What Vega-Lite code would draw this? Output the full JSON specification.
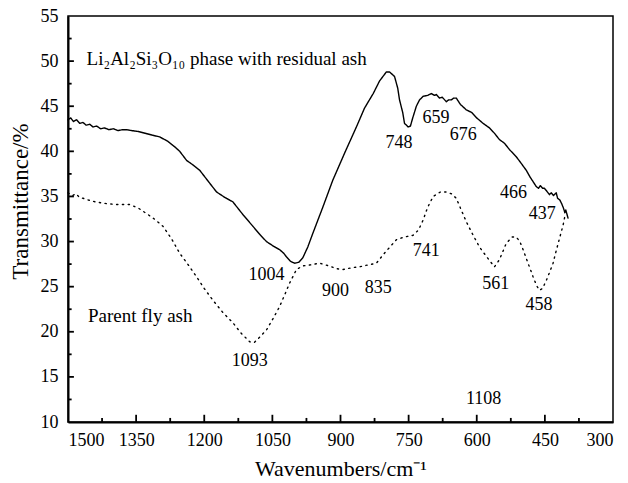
{
  "$schema": "https://vega.github.io/schema/vega-lite/v6.json",
  "width": 545,
  "height": 406,
  "autosize": "none",
  "padding": {"left": 68, "top": 16, "right": 15, "bottom": 61},
  "background": "white",
  "config": {
    "view": {"stroke": "black", "strokeWidth": 1.5},
    "font": "Liberation Serif"
  },
  "datasets": {
    "spectra": [
      {"wn": 1500, "t": 43.5, "s": "Li2Al2Si3O10 phase with residual ash"},
      {"wn": 1494, "t": 43.7, "s": "Li2Al2Si3O10 phase with residual ash"},
      {"wn": 1488, "t": 43.3, "s": "Li2Al2Si3O10 phase with residual ash"},
      {"wn": 1481, "t": 43.5, "s": "Li2Al2Si3O10 phase with residual ash"},
      {"wn": 1474, "t": 43.1, "s": "Li2Al2Si3O10 phase with residual ash"},
      {"wn": 1467, "t": 43.2, "s": "Li2Al2Si3O10 phase with residual ash"},
      {"wn": 1460, "t": 42.9, "s": "Li2Al2Si3O10 phase with residual ash"},
      {"wn": 1452, "t": 43.0, "s": "Li2Al2Si3O10 phase with residual ash"},
      {"wn": 1445, "t": 42.7, "s": "Li2Al2Si3O10 phase with residual ash"},
      {"wn": 1437, "t": 42.8, "s": "Li2Al2Si3O10 phase with residual ash"},
      {"wn": 1428, "t": 42.5, "s": "Li2Al2Si3O10 phase with residual ash"},
      {"wn": 1420, "t": 42.6, "s": "Li2Al2Si3O10 phase with residual ash"},
      {"wn": 1410, "t": 42.4, "s": "Li2Al2Si3O10 phase with residual ash"},
      {"wn": 1400, "t": 42.5, "s": "Li2Al2Si3O10 phase with residual ash"},
      {"wn": 1390, "t": 42.3, "s": "Li2Al2Si3O10 phase with residual ash"},
      {"wn": 1380, "t": 42.4, "s": "Li2Al2Si3O10 phase with residual ash"},
      {"wn": 1371, "t": 42.4, "s": "Li2Al2Si3O10 phase with residual ash"},
      {"wn": 1360, "t": 42.3, "s": "Li2Al2Si3O10 phase with residual ash"},
      {"wn": 1345, "t": 42.2, "s": "Li2Al2Si3O10 phase with residual ash"},
      {"wn": 1330, "t": 42.0, "s": "Li2Al2Si3O10 phase with residual ash"},
      {"wn": 1315, "t": 41.8, "s": "Li2Al2Si3O10 phase with residual ash"},
      {"wn": 1298, "t": 41.6, "s": "Li2Al2Si3O10 phase with residual ash"},
      {"wn": 1280, "t": 41.1, "s": "Li2Al2Si3O10 phase with residual ash"},
      {"wn": 1265, "t": 40.5, "s": "Li2Al2Si3O10 phase with residual ash"},
      {"wn": 1254, "t": 40.0, "s": "Li2Al2Si3O10 phase with residual ash"},
      {"wn": 1239, "t": 39.0, "s": "Li2Al2Si3O10 phase with residual ash"},
      {"wn": 1225, "t": 38.5, "s": "Li2Al2Si3O10 phase with residual ash"},
      {"wn": 1210, "t": 37.9, "s": "Li2Al2Si3O10 phase with residual ash"},
      {"wn": 1190, "t": 36.6, "s": "Li2Al2Si3O10 phase with residual ash"},
      {"wn": 1173, "t": 35.5, "s": "Li2Al2Si3O10 phase with residual ash"},
      {"wn": 1155, "t": 34.9, "s": "Li2Al2Si3O10 phase with residual ash"},
      {"wn": 1137, "t": 34.4, "s": "Li2Al2Si3O10 phase with residual ash"},
      {"wn": 1115, "t": 33.0, "s": "Li2Al2Si3O10 phase with residual ash"},
      {"wn": 1093, "t": 31.7, "s": "Li2Al2Si3O10 phase with residual ash"},
      {"wn": 1078, "t": 30.8, "s": "Li2Al2Si3O10 phase with residual ash"},
      {"wn": 1063, "t": 30.0, "s": "Li2Al2Si3O10 phase with residual ash"},
      {"wn": 1048, "t": 29.5, "s": "Li2Al2Si3O10 phase with residual ash"},
      {"wn": 1034, "t": 29.1, "s": "Li2Al2Si3O10 phase with residual ash"},
      {"wn": 1025, "t": 28.7, "s": "Li2Al2Si3O10 phase with residual ash"},
      {"wn": 1019, "t": 28.3, "s": "Li2Al2Si3O10 phase with residual ash"},
      {"wn": 1010, "t": 27.8, "s": "Li2Al2Si3O10 phase with residual ash"},
      {"wn": 1001, "t": 27.6, "s": "Li2Al2Si3O10 phase with residual ash"},
      {"wn": 992, "t": 27.7, "s": "Li2Al2Si3O10 phase with residual ash"},
      {"wn": 983, "t": 28.2, "s": "Li2Al2Si3O10 phase with residual ash"},
      {"wn": 972, "t": 29.4, "s": "Li2Al2Si3O10 phase with residual ash"},
      {"wn": 961, "t": 30.9, "s": "Li2Al2Si3O10 phase with residual ash"},
      {"wn": 939, "t": 33.8, "s": "Li2Al2Si3O10 phase with residual ash"},
      {"wn": 917, "t": 36.8, "s": "Li2Al2Si3O10 phase with residual ash"},
      {"wn": 891, "t": 39.8, "s": "Li2Al2Si3O10 phase with residual ash"},
      {"wn": 865, "t": 42.7, "s": "Li2Al2Si3O10 phase with residual ash"},
      {"wn": 847, "t": 44.8, "s": "Li2Al2Si3O10 phase with residual ash"},
      {"wn": 828, "t": 46.4, "s": "Li2Al2Si3O10 phase with residual ash"},
      {"wn": 814, "t": 47.8, "s": "Li2Al2Si3O10 phase with residual ash"},
      {"wn": 799, "t": 48.8, "s": "Li2Al2Si3O10 phase with residual ash"},
      {"wn": 792, "t": 48.8, "s": "Li2Al2Si3O10 phase with residual ash"},
      {"wn": 781, "t": 48.3, "s": "Li2Al2Si3O10 phase with residual ash"},
      {"wn": 774, "t": 47.0, "s": "Li2Al2Si3O10 phase with residual ash"},
      {"wn": 770, "t": 45.7, "s": "Li2Al2Si3O10 phase with residual ash"},
      {"wn": 763, "t": 44.3, "s": "Li2Al2Si3O10 phase with residual ash"},
      {"wn": 759, "t": 43.1, "s": "Li2Al2Si3O10 phase with residual ash"},
      {"wn": 751, "t": 42.7, "s": "Li2Al2Si3O10 phase with residual ash"},
      {"wn": 746, "t": 42.8, "s": "Li2Al2Si3O10 phase with residual ash"},
      {"wn": 741, "t": 43.7, "s": "Li2Al2Si3O10 phase with residual ash"},
      {"wn": 733, "t": 45.0, "s": "Li2Al2Si3O10 phase with residual ash"},
      {"wn": 726, "t": 45.7, "s": "Li2Al2Si3O10 phase with residual ash"},
      {"wn": 718, "t": 46.1, "s": "Li2Al2Si3O10 phase with residual ash"},
      {"wn": 708, "t": 46.2, "s": "Li2Al2Si3O10 phase with residual ash"},
      {"wn": 700, "t": 46.4, "s": "Li2Al2Si3O10 phase with residual ash"},
      {"wn": 693, "t": 46.2, "s": "Li2Al2Si3O10 phase with residual ash"},
      {"wn": 689, "t": 46.3, "s": "Li2Al2Si3O10 phase with residual ash"},
      {"wn": 682, "t": 45.9, "s": "Li2Al2Si3O10 phase with residual ash"},
      {"wn": 676, "t": 46.0, "s": "Li2Al2Si3O10 phase with residual ash"},
      {"wn": 667, "t": 45.5, "s": "Li2Al2Si3O10 phase with residual ash"},
      {"wn": 662, "t": 45.7, "s": "Li2Al2Si3O10 phase with residual ash"},
      {"wn": 656, "t": 45.7, "s": "Li2Al2Si3O10 phase with residual ash"},
      {"wn": 651, "t": 45.9, "s": "Li2Al2Si3O10 phase with residual ash"},
      {"wn": 645, "t": 45.9, "s": "Li2Al2Si3O10 phase with residual ash"},
      {"wn": 636, "t": 45.2, "s": "Li2Al2Si3O10 phase with residual ash"},
      {"wn": 623, "t": 44.6, "s": "Li2Al2Si3O10 phase with residual ash"},
      {"wn": 611, "t": 44.3, "s": "Li2Al2Si3O10 phase with residual ash"},
      {"wn": 600, "t": 43.7, "s": "Li2Al2Si3O10 phase with residual ash"},
      {"wn": 586, "t": 43.1, "s": "Li2Al2Si3O10 phase with residual ash"},
      {"wn": 572, "t": 42.6, "s": "Li2Al2Si3O10 phase with residual ash"},
      {"wn": 561, "t": 42.0, "s": "Li2Al2Si3O10 phase with residual ash"},
      {"wn": 550, "t": 41.3, "s": "Li2Al2Si3O10 phase with residual ash"},
      {"wn": 539, "t": 40.9, "s": "Li2Al2Si3O10 phase with residual ash"},
      {"wn": 528, "t": 40.2, "s": "Li2Al2Si3O10 phase with residual ash"},
      {"wn": 513, "t": 39.4, "s": "Li2Al2Si3O10 phase with residual ash"},
      {"wn": 504, "t": 38.8, "s": "Li2Al2Si3O10 phase with residual ash"},
      {"wn": 491, "t": 37.9, "s": "Li2Al2Si3O10 phase with residual ash"},
      {"wn": 482, "t": 37.1, "s": "Li2Al2Si3O10 phase with residual ash"},
      {"wn": 469, "t": 36.1, "s": "Li2Al2Si3O10 phase with residual ash"},
      {"wn": 464, "t": 35.9, "s": "Li2Al2Si3O10 phase with residual ash"},
      {"wn": 460, "t": 36.2, "s": "Li2Al2Si3O10 phase with residual ash"},
      {"wn": 455, "t": 35.9, "s": "Li2Al2Si3O10 phase with residual ash"},
      {"wn": 451, "t": 35.9, "s": "Li2Al2Si3O10 phase with residual ash"},
      {"wn": 446, "t": 35.6, "s": "Li2Al2Si3O10 phase with residual ash"},
      {"wn": 440, "t": 35.2, "s": "Li2Al2Si3O10 phase with residual ash"},
      {"wn": 436, "t": 35.4, "s": "Li2Al2Si3O10 phase with residual ash"},
      {"wn": 431, "t": 35.1, "s": "Li2Al2Si3O10 phase with residual ash"},
      {"wn": 425, "t": 35.4, "s": "Li2Al2Si3O10 phase with residual ash"},
      {"wn": 422, "t": 34.8, "s": "Li2Al2Si3O10 phase with residual ash"},
      {"wn": 417, "t": 34.6, "s": "Li2Al2Si3O10 phase with residual ash"},
      {"wn": 413, "t": 34.2, "s": "Li2Al2Si3O10 phase with residual ash"},
      {"wn": 409, "t": 33.7, "s": "Li2Al2Si3O10 phase with residual ash"},
      {"wn": 406, "t": 33.2, "s": "Li2Al2Si3O10 phase with residual ash"},
      {"wn": 404, "t": 33.5, "s": "Li2Al2Si3O10 phase with residual ash"},
      {"wn": 399, "t": 32.6, "s": "Li2Al2Si3O10 phase with residual ash"},
      {"wn": 1500, "t": 35.4, "s": "Parent fly ash"},
      {"wn": 1490, "t": 35.1, "s": "Parent fly ash"},
      {"wn": 1482, "t": 35.3, "s": "Parent fly ash"},
      {"wn": 1475, "t": 34.9, "s": "Parent fly ash"},
      {"wn": 1467, "t": 34.8, "s": "Parent fly ash"},
      {"wn": 1455, "t": 34.6, "s": "Parent fly ash"},
      {"wn": 1440, "t": 34.4, "s": "Parent fly ash"},
      {"wn": 1415, "t": 34.2, "s": "Parent fly ash"},
      {"wn": 1390, "t": 34.1, "s": "Parent fly ash"},
      {"wn": 1364, "t": 34.1, "s": "Parent fly ash"},
      {"wn": 1345, "t": 33.7, "s": "Parent fly ash"},
      {"wn": 1327, "t": 33.1, "s": "Parent fly ash"},
      {"wn": 1310, "t": 32.5, "s": "Parent fly ash"},
      {"wn": 1291, "t": 31.7, "s": "Parent fly ash"},
      {"wn": 1272, "t": 30.3, "s": "Parent fly ash"},
      {"wn": 1254, "t": 28.7, "s": "Parent fly ash"},
      {"wn": 1235, "t": 27.4, "s": "Parent fly ash"},
      {"wn": 1217, "t": 26.1, "s": "Parent fly ash"},
      {"wn": 1200, "t": 24.8, "s": "Parent fly ash"},
      {"wn": 1181, "t": 23.5, "s": "Parent fly ash"},
      {"wn": 1160, "t": 22.2, "s": "Parent fly ash"},
      {"wn": 1137, "t": 21.0, "s": "Parent fly ash"},
      {"wn": 1118, "t": 19.8, "s": "Parent fly ash"},
      {"wn": 1100, "t": 18.9, "s": "Parent fly ash"},
      {"wn": 1090, "t": 18.8, "s": "Parent fly ash"},
      {"wn": 1080, "t": 19.3, "s": "Parent fly ash"},
      {"wn": 1063, "t": 20.2, "s": "Parent fly ash"},
      {"wn": 1048, "t": 21.5, "s": "Parent fly ash"},
      {"wn": 1034, "t": 22.8, "s": "Parent fly ash"},
      {"wn": 1022, "t": 24.2, "s": "Parent fly ash"},
      {"wn": 1012, "t": 25.4, "s": "Parent fly ash"},
      {"wn": 997, "t": 26.9, "s": "Parent fly ash"},
      {"wn": 983, "t": 27.3, "s": "Parent fly ash"},
      {"wn": 968, "t": 27.4, "s": "Parent fly ash"},
      {"wn": 946, "t": 27.6, "s": "Parent fly ash"},
      {"wn": 925, "t": 27.3, "s": "Parent fly ash"},
      {"wn": 910, "t": 27.0, "s": "Parent fly ash"},
      {"wn": 895, "t": 26.9, "s": "Parent fly ash"},
      {"wn": 875, "t": 27.1, "s": "Parent fly ash"},
      {"wn": 858, "t": 27.2, "s": "Parent fly ash"},
      {"wn": 840, "t": 27.4, "s": "Parent fly ash"},
      {"wn": 821, "t": 27.6, "s": "Parent fly ash"},
      {"wn": 800, "t": 28.9, "s": "Parent fly ash"},
      {"wn": 777, "t": 30.2, "s": "Parent fly ash"},
      {"wn": 760, "t": 30.5, "s": "Parent fly ash"},
      {"wn": 740, "t": 30.7, "s": "Parent fly ash"},
      {"wn": 728, "t": 31.3, "s": "Parent fly ash"},
      {"wn": 718, "t": 32.4, "s": "Parent fly ash"},
      {"wn": 708, "t": 33.8, "s": "Parent fly ash"},
      {"wn": 696, "t": 35.0, "s": "Parent fly ash"},
      {"wn": 680, "t": 35.5, "s": "Parent fly ash"},
      {"wn": 667, "t": 35.5, "s": "Parent fly ash"},
      {"wn": 656, "t": 35.3, "s": "Parent fly ash"},
      {"wn": 645, "t": 34.8, "s": "Parent fly ash"},
      {"wn": 635, "t": 33.6, "s": "Parent fly ash"},
      {"wn": 623, "t": 32.2, "s": "Parent fly ash"},
      {"wn": 610, "t": 30.9, "s": "Parent fly ash"},
      {"wn": 594, "t": 29.4, "s": "Parent fly ash"},
      {"wn": 578, "t": 28.3, "s": "Parent fly ash"},
      {"wn": 561, "t": 27.2, "s": "Parent fly ash"},
      {"wn": 550, "t": 28.0, "s": "Parent fly ash"},
      {"wn": 535, "t": 29.8, "s": "Parent fly ash"},
      {"wn": 522, "t": 30.5, "s": "Parent fly ash"},
      {"wn": 513, "t": 30.5, "s": "Parent fly ash"},
      {"wn": 505, "t": 30.0, "s": "Parent fly ash"},
      {"wn": 498, "t": 29.1, "s": "Parent fly ash"},
      {"wn": 487, "t": 27.6, "s": "Parent fly ash"},
      {"wn": 476, "t": 26.1, "s": "Parent fly ash"},
      {"wn": 468, "t": 25.1, "s": "Parent fly ash"},
      {"wn": 462, "t": 24.6, "s": "Parent fly ash"},
      {"wn": 455, "t": 24.8, "s": "Parent fly ash"},
      {"wn": 445, "t": 25.9, "s": "Parent fly ash"},
      {"wn": 432, "t": 27.6, "s": "Parent fly ash"},
      {"wn": 425, "t": 29.0, "s": "Parent fly ash"},
      {"wn": 417, "t": 30.5, "s": "Parent fly ash"},
      {"wn": 410, "t": 31.8, "s": "Parent fly ash"},
      {"wn": 406, "t": 32.8, "s": "Parent fly ash"}
    ],
    "labels": [
      {"wn": 1063, "t": 26.3, "label": "1004"},
      {"wn": 1100, "t": 16.8, "label": "1093"},
      {"wn": 911, "t": 24.5, "label": "900"},
      {"wn": 817, "t": 24.9, "label": "835"},
      {"wn": 711, "t": 28.9, "label": "741"},
      {"wn": 558, "t": 25.3, "label": "561"},
      {"wn": 463, "t": 23.0, "label": "458"},
      {"wn": 519, "t": 35.4, "label": "466"},
      {"wn": 456, "t": 33.1, "label": "437"},
      {"wn": 771, "t": 40.9, "label": "748"},
      {"wn": 690, "t": 43.7, "label": "659"},
      {"wn": 630, "t": 41.8, "label": "676"},
      {"wn": 585, "t": 12.6, "label": "1108"}
    ],
    "names": [
      {"wn": 1459, "t": 50.2, "label": "Li₂Al₂Si₃O₁₀ phase with residual ash"},
      {"wn": 1456, "t": 21.7, "label": "Parent fly ash"}
    ],
    "xticks": [
      {"wn": 1425, "kind": "minor"}, {"wn": 1350, "kind": "major"}, {"wn": 1275, "kind": "minor"},
      {"wn": 1200, "kind": "major"}, {"wn": 1125, "kind": "minor"}, {"wn": 1050, "kind": "major"},
      {"wn": 975, "kind": "minor"}, {"wn": 900, "kind": "major"}, {"wn": 825, "kind": "minor"},
      {"wn": 750, "kind": "major"}, {"wn": 675, "kind": "minor"}, {"wn": 600, "kind": "major"},
      {"wn": 525, "kind": "minor"}, {"wn": 450, "kind": "major"}, {"wn": 375, "kind": "minor"}
    ],
    "yticks": [
      {"t": 12.5, "kind": "minor"}, {"t": 15, "kind": "major"}, {"t": 17.5, "kind": "minor"},
      {"t": 20, "kind": "major"}, {"t": 22.5, "kind": "minor"}, {"t": 25, "kind": "major"},
      {"t": 27.5, "kind": "minor"}, {"t": 30, "kind": "major"}, {"t": 32.5, "kind": "minor"},
      {"t": 35, "kind": "major"}, {"t": 37.5, "kind": "minor"}, {"t": 40, "kind": "major"},
      {"t": 42.5, "kind": "minor"}, {"t": 45, "kind": "major"}, {"t": 47.5, "kind": "minor"},
      {"t": 50, "kind": "major"}, {"t": 52.5, "kind": "minor"}
    ]
  },
  "layer": [
    {
      "data": {"name": "spectra"},
      "mark": {"type": "line", "strokeCap": "round", "strokeJoin": "round"},
      "encoding": {
        "x": {
          "field": "wn", "type": "quantitative",
          "scale": {"domain": [300, 1500], "reverse": true, "nice": false, "zero": false},
          "axis": {
            "title": "Wavenumbers/cm⁻¹",
            "titleFont": "Liberation Serif", "titleFontSize": 22, "titleFontWeight": "normal", "titleColor": "black",
            "titlePadding": 9,
            "values": [1500, 1350, 1200, 1050, 900, 750, 600, 450, 300],
            "format": "d",
            "labelFont": "Liberation Serif", "labelFontSize": 18, "labelColor": "black",
            "labelPadding": 9,
            "ticks": false,
            "domainColor": "black", "domainWidth": 2,
            "grid": false
          }
        },
        "y": {
          "field": "t", "type": "quantitative",
          "scale": {"domain": [10, 55], "nice": false, "zero": false},
          "axis": {
            "title": "Transmittance/%",
            "titleFont": "Liberation Serif", "titleFontSize": 23, "titleFontWeight": "normal", "titleColor": "black",
            "titlePadding": 8,
            "titleY": 185,
            "values": [10, 15, 20, 25, 30, 35, 40, 45, 50, 55],
            "labelFont": "Liberation Serif", "labelFontSize": 18, "labelColor": "black",
            "labelPadding": 10,
            "ticks": false,
            "domainColor": "black", "domainWidth": 2,
            "grid": false
          }
        },
        "detail": {"field": "s", "type": "nominal"},
        "strokeDash": {
          "field": "s", "type": "nominal",
          "scale": {"domain": ["Li2Al2Si3O10 phase with residual ash", "Parent fly ash"], "range": [[1, 0], [1.3, 4.5]]},
          "legend": null
        },
        "color": {"value": "black"},
        "strokeWidth": {"value": 1.4}
      }
    },
    {
      "data": {"name": "labels"},
      "mark": {"type": "text", "font": "Liberation Serif", "fontSize": 18, "color": "black", "align": "center", "baseline": "middle"},
      "encoding": {
        "x": {"field": "wn", "type": "quantitative"},
        "y": {"field": "t", "type": "quantitative"},
        "text": {"field": "label", "type": "nominal"}
      }
    },
    {
      "data": {"name": "names"},
      "mark": {"type": "text", "font": "Liberation Serif", "fontSize": 19, "color": "black", "align": "left", "baseline": "middle"},
      "encoding": {
        "x": {"field": "wn", "type": "quantitative"},
        "y": {"field": "t", "type": "quantitative"},
        "text": {"field": "label", "type": "nominal"}
      }
    },
    {
      "data": {"name": "xticks"},
      "transform": [{"filter": "datum.kind === 'major'"}],
      "mark": {"type": "rule", "color": "black", "strokeWidth": 1.8},
      "encoding": {
        "x": {"field": "wn", "type": "quantitative"},
        "y": {"datum": 10, "type": "quantitative"},
        "y2": {"datum": 10.8}
      }
    },
    {
      "data": {"name": "xticks"},
      "transform": [{"filter": "datum.kind === 'minor'"}],
      "mark": {"type": "rule", "color": "black", "strokeWidth": 1.8},
      "encoding": {
        "x": {"field": "wn", "type": "quantitative"},
        "y": {"datum": 10, "type": "quantitative"},
        "y2": {"datum": 10.45}
      }
    },
    {
      "data": {"name": "yticks"},
      "transform": [{"filter": "datum.kind === 'major'"}],
      "mark": {"type": "rule", "color": "black", "strokeWidth": 1.8},
      "encoding": {
        "y": {"field": "t", "type": "quantitative"},
        "x": {"datum": 1500, "type": "quantitative"},
        "x2": {"datum": 1487}
      }
    },
    {
      "data": {"name": "yticks"},
      "transform": [{"filter": "datum.kind === 'minor'"}],
      "mark": {"type": "rule", "color": "black", "strokeWidth": 1.8},
      "encoding": {
        "y": {"field": "t", "type": "quantitative"},
        "x": {"datum": 1500, "type": "quantitative"},
        "x2": {"datum": 1492}
      }
    }
  ]
}
